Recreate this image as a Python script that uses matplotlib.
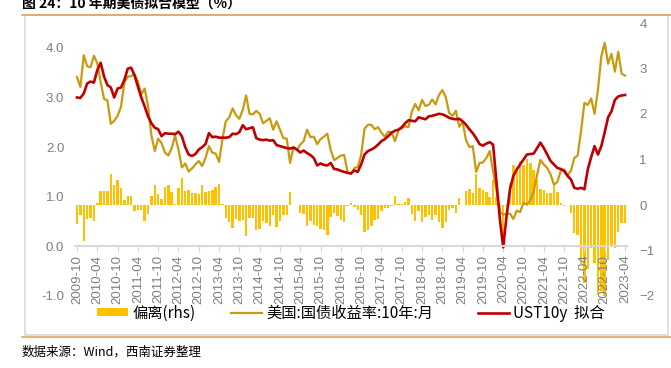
import matplotlib
matplotlib.use('Agg')
import matplotlib.pyplot as plt
from matplotlib.lines import Line2D
from matplotlib.patches import Rectangle
import numpy as np
import pandas as pd

# mois 2009-10 .. 2023-04
months = pd.period_range('2009-10', '2023-04', freq='M').strftime('%Y-%m').tolist()

# 美国:国债收益率:10年:月 (%)
ust10y = [3.41, 3.21, 3.85,
          3.63, 3.61, 3.84, 3.69, 3.31, 2.97, 2.94, 2.47, 2.53, 2.63, 2.81, 3.30,
          3.42, 3.43, 3.47, 3.32, 3.06, 3.18, 2.82, 2.23, 1.92, 2.17, 2.08, 1.89,
          1.83, 1.98, 2.23, 1.95, 1.59, 1.67, 1.51, 1.57, 1.65, 1.72, 1.62, 1.78,
          2.02, 1.89, 1.87, 1.70, 2.16, 2.52, 2.60, 2.78, 2.64, 2.57, 2.75, 3.04,
          2.67, 2.66, 2.73, 2.67, 2.48, 2.53, 2.58, 2.35, 2.52, 2.35, 2.18, 2.17,
          1.68, 2.00, 1.94, 2.05, 2.12, 2.35, 2.20, 2.21, 2.06, 2.16, 2.21, 2.27,
          1.94, 1.74, 1.78, 1.83, 1.84, 1.49, 1.46, 1.58, 1.60, 1.84, 2.37, 2.45,
          2.45, 2.36, 2.40, 2.29, 2.21, 2.31, 2.30, 2.12, 2.33, 2.38, 2.42, 2.40,
          2.72, 2.87, 2.74, 2.95, 2.83, 2.85, 2.96, 2.86, 3.05, 3.15, 3.01, 2.69,
          2.63, 2.73, 2.41, 2.51, 2.14, 2.00, 2.02, 1.50, 1.68, 1.69, 1.78, 1.92,
          1.51, 1.13, 0.70, 0.64, 0.65, 0.66, 0.55, 0.72, 0.69, 0.88, 0.84, 0.93,
          1.11, 1.44, 1.74, 1.65, 1.58, 1.45, 1.24, 1.30, 1.52, 1.55, 1.43, 1.52,
          1.78, 1.83, 2.32, 2.89, 2.85, 2.98, 2.67, 3.15, 3.83, 4.10, 3.68, 3.88,
          3.52, 3.92, 3.48, 3.44]

# UST10y 拟合
fit = [3.00, 2.99, 3.08,
       3.28, 3.32, 3.30, 3.55, 3.70, 3.42, 3.25, 3.20, 3.00, 3.18, 3.20, 3.35,
       3.58, 3.60, 3.45, 3.22, 3.00, 2.82, 2.62, 2.48, 2.39, 2.36, 2.22, 2.28,
       2.27, 2.27, 2.26, 2.31, 2.22, 2.00, 1.85, 1.82, 1.86, 1.95, 2.00, 2.06,
       2.28, 2.20, 2.21, 2.19, 2.19, 2.19, 2.20, 2.27, 2.26, 2.30, 2.44, 2.36,
       2.38, 2.40, 2.18, 2.15, 2.14, 2.15, 2.13, 2.14, 2.04, 2.02, 2.00, 1.98,
       1.97, 1.99, 1.95, 1.89, 1.93, 1.88, 1.84, 1.78, 1.63, 1.67, 1.64, 1.63,
       1.68, 1.56, 1.55, 1.52, 1.50, 1.48, 1.47, 1.53, 1.50, 1.65, 1.85, 1.92,
       1.95, 1.99, 2.05, 2.12, 2.16, 2.22, 2.29, 2.33, 2.35, 2.40, 2.48, 2.54,
       2.53, 2.52, 2.60, 2.58, 2.56, 2.62, 2.63, 2.65, 2.67, 2.66, 2.63, 2.59,
       2.57, 2.56, 2.57, 2.52, 2.45, 2.36, 2.28, 2.18, 2.06, 2.03, 2.07, 2.10,
       2.05, 1.30, 0.55, -0.02, 0.62, 1.15, 1.42, 1.55, 1.65, 1.75, 1.85, 1.86,
       1.87, 1.98, 2.09, 1.98, 1.85, 1.72, 1.65, 1.58, 1.56, 1.52, 1.42, 1.35,
       1.18, 1.16, 1.18, 1.15, 1.55, 1.80, 2.02, 1.85, 2.02, 2.30, 2.60, 2.72,
       2.95, 3.02, 3.04, 3.05]

# 偏离 (rhs)
ecart = [-0.41, -0.22, -0.79,
         -0.30, -0.28, -0.35, 0.04, 0.30, 0.31, 0.30, 0.68, 0.45, 0.55, 0.38, 0.10,
         0.20, 0.20, -0.13, -0.10, -0.12, -0.35, -0.20, 0.20, 0.45, 0.24, 0.14, 0.40,
         0.44, 0.28, 0.02, 0.37, 0.60, 0.30, 0.34, 0.27, 0.27, 0.25, 0.43, 0.28,
         0.30, 0.34, 0.40, 0.46, 0.03, -0.28, -0.38, -0.51, -0.30, -0.36, -0.32, -0.69,
         -0.29, -0.28, -0.55, -0.53, -0.35, -0.39, -0.46, -0.23, -0.48, -0.35, -0.22, -0.21,
         0.29, -0.01, 0.01, -0.18, -0.20, -0.47, -0.36, -0.45, -0.47, -0.52, -0.56, -0.66,
         -0.26, -0.18, -0.24, -0.32, -0.37, -0.02, 0.04, -0.04, -0.10, -0.22, -0.60, -0.54,
         -0.47, -0.34, -0.30, -0.14, -0.06, -0.07, -0.02, 0.19, 0.02, 0.02, 0.06, 0.15,
         -0.19, -0.35, -0.14, -0.37, -0.27, -0.23, -0.33, -0.21, -0.38, -0.50, -0.38, -0.10,
         -0.06, -0.17, 0.16, 0.01, 0.31, 0.36, 0.26, 0.68, 0.38, 0.34, 0.29, 0.18,
         0.54, 0.17, -0.15, -0.66, -0.03, 0.49, 0.87, 0.83, 0.96, 0.87, 1.01, 0.93,
         0.76, 0.54, 0.35, 0.33, 0.27, 0.27, 0.41, 0.28, 0.04, -0.03, -0.01, -0.17,
         -0.62, -0.66, -1.30, -1.72, -1.40, -0.95, -1.28, -1.98, -1.90, -2.00, -1.20, -0.90,
         -0.95, -0.60, -0.40, -0.40]

tick_labels = months[::6]
cjk = ['Noto Sans CJK SC', 'DejaVu Sans']
plt.rcParams['font.family'] = ['Liberation Sans', 'Noto Sans CJK SC']
gris = '#7f7f7f'

W, H = 671, 368
fig = plt.figure(figsize=(W / 100, H / 100), dpi=100)
ax = fig.add_axes([75.3 / W, 72 / H, 551.4 / W, 273 / H])
ax2 = ax.twinx()

x = np.arange(len(months))
b = ax2.bar(x, ecart, width=0.72, color='#FFC000', label='偏离(rhs)')
l1, = ax.plot(x, ust10y, color='#C99A0E', lw=1.6, label='美国:国债收益率:10年:月')
l2, = ax.plot(x, fit, color='#C00000', lw=1.9, label='UST10y  拟合')
ax.set_zorder(ax2.get_zorder() + 1)
ax.patch.set_visible(False)

ax.set_xlim(-0.5, len(months) - 0.5)
ax.set_ylim(-1, 4.5)
ax2.set_ylim(-2, 4)
ax.set_yticks(np.arange(-1, 4.01, 1))
ax.set_yticklabels(['%.1f' % v for v in np.arange(-1, 4.01, 1)])
ax2.set_yticks(range(-2, 5))

for a in (ax, ax2):
    for s in a.spines.values():
        s.set_visible(False)
ax.spines['bottom'].set_visible(True)
ax.spines['bottom'].set_position(('data', 0))
ax.spines['bottom'].set_color('#D9D9D9')
ax.spines['bottom'].set_linewidth(1.5)

ax.set_xticks(x[::6])
ax.set_xticklabels(tick_labels, rotation=90)
ax.tick_params(axis='x', length=4, color='#D9D9D9', labelcolor=gris, labelsize=9.5, pad=2)
ax.tick_params(axis='y', length=0, labelcolor=gris, labelsize=9.5, pad=8)
ax2.tick_params(axis='y', length=0, labelcolor=gris, labelsize=9.5, pad=9)

# une légende par entrée, placées comme dans l'original
for h, x0 in zip([b, l1, l2], [97, 231, 478]):
    fig.legend(handles=[h], loc='center left', bbox_to_anchor=(x0 / W, 1 - 313 / H),
               frameon=False, prop={'family': cjk, 'size': 11},
               handlelength=2.0, handleheight=0.5, handletextpad=0.3,
               borderpad=0, borderaxespad=0)

# cadre et filets
fig.add_artist(Rectangle((25 / W, 1 - 335 / H), 643 / W, 320 / H, transform=fig.transFigure,
                         fill=False, edgecolor='#D9D9D9', lw=1.2))
fig.add_artist(Line2D([22 / W, 1], [1 - 14.5 / H] * 2, color='#E0A45A', lw=1.2))
fig.add_artist(Line2D([22 / W, 1], [1 - 337 / H] * 2, color='#E0A45A', lw=1.2))

fig.text(22 / W, 1 - 8 / H, '图 24：10 年期美债拟合模型（%）', fontsize=10, fontweight='bold',
         family=cjk, va='baseline')
fig.text(22 / W, 1 - 352 / H, '数据来源：Wind，西南证券整理', fontsize=9, style='italic',
         family=cjk, va='center')

fig.savefig('out.png', dpi=100)
